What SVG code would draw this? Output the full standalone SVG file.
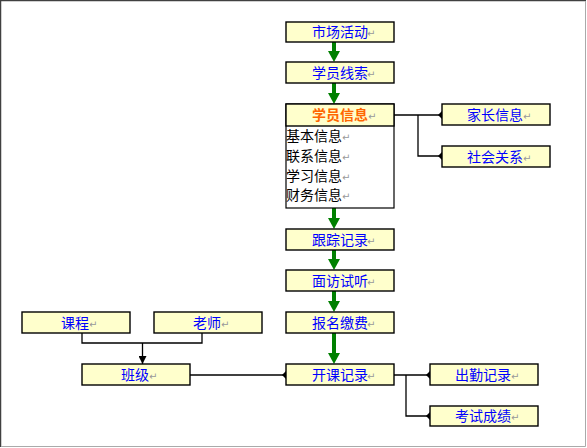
<svg xmlns="http://www.w3.org/2000/svg" width="587" height="448" viewBox="0 0 587 448">
<style>
.box{fill:#FFFFCC;stroke:#000;stroke-width:1.4}
.body{fill:#fff;stroke:#000;stroke-width:1.2}
.t{font-family:"Noto Sans CJK SC","Liberation Sans",sans-serif;font-size:14px;fill:#0000FF}
.h{font-family:"Noto Sans CJK SC","Liberation Sans",sans-serif;font-size:14px;fill:#FF6600;font-weight:bold}
.b{font-family:"Noto Sans CJK SC","Liberation Sans",sans-serif;font-size:14px;fill:#000}
.p{fill:#999;font-size:10px;font-family:"DejaVu Sans",sans-serif}
.ln{fill:none;stroke:#000;stroke-width:1.3}
.g{fill:none;stroke:#008000;stroke-width:4}
</style>
<defs>
<marker id="dia" viewBox="0 0 10 10" refX="5" refY="5" markerWidth="8" markerHeight="8" markerUnits="userSpaceOnUse" orient="auto">
<path d="M0,5 L5,0 L10,5 L5,10 Z" fill="#000"/>
</marker>
<marker id="tri" viewBox="0 0 10 10" refX="10" refY="5" markerWidth="8" markerHeight="8" markerUnits="userSpaceOnUse" orient="auto">
<path d="M0,0 L10,5 L0,10 Z" fill="#000"/>
</marker>
</defs>
<rect x="0" y="0" width="587" height="448" fill="#fff"/>
<path d="M0.5,447 V0.5 H586" fill="none" stroke="#404040" stroke-width="1.5"/>
<path d="M585.5,1 V446.5 H1" fill="none" stroke="#aaa" stroke-width="1"/>

<g id="connectors">
<g fill="#008000">
<path class="g" d="M334,42 V52"/><path d="M328,51 H340 L334,62 Z"/>
<path class="g" d="M334,83 V94"/><path d="M328,93 H340 L334,104 Z"/>
<path class="g" d="M334,208 V219"/><path d="M328,218 H340 L334,229 Z"/>
<path class="g" d="M334,250 V260"/><path d="M328,259 H340 L334,270 Z"/>
<path class="g" d="M334,291 V302"/><path d="M328,301 H340 L334,312 Z"/>
<path class="g" d="M334,333 V354"/><path d="M328,353 H340 L334,364 Z"/>
</g>
<path class="ln" d="M394,115 H442" marker-end="url(#dia)"/>
<path class="ln" d="M418,115 V156 H442" marker-end="url(#dia)"/>
<path class="ln" d="M394,375 H430" marker-end="url(#dia)"/>
<path class="ln" d="M406,375 V416 H430" marker-end="url(#dia)"/>
<path class="ln" d="M190,375 H286" marker-end="url(#dia)"/>
<path class="ln" d="M82,333 V343 H202 V333"/>
<path class="ln" d="M142.5,343 V364" marker-end="url(#tri)"/>
</g>

<g id="n1"><rect class="box" x="286" y="22" width="108" height="20"/><text class="t" x="312" y="37">市场活动</text><text class="p" x="367" y="37">↵</text></g>
<g id="n2"><rect class="box" x="286" y="62" width="108" height="21"/><text class="t" x="312" y="78">学员线索</text><text class="p" x="367" y="78">↵</text></g>
<g id="n3">
<rect class="body" x="286" y="104" width="108" height="104"/>
<rect class="box" x="286" y="104" width="108" height="22"/>
<text class="h" x="312" y="120">学员信息</text><text class="p" x="368" y="120">↵</text>
<text class="b" x="286" y="141">基本信息</text><text class="p" x="342" y="141">↵</text>
<text class="b" x="286" y="161">联系信息</text><text class="p" x="342" y="161">↵</text>
<text class="b" x="286" y="181">学习信息</text><text class="p" x="342" y="181">↵</text>
<text class="b" x="286" y="200">财务信息</text><text class="p" x="342" y="200">↵</text>
</g>
<g id="n4"><rect class="box" x="442" y="104" width="108" height="21"/><text class="t" x="467" y="120">家长信息</text><text class="p" x="523" y="120">↵</text></g>
<g id="n5"><rect class="box" x="442" y="146" width="108" height="21"/><text class="t" x="467" y="162">社会关系</text><text class="p" x="523" y="162">↵</text></g>
<g id="n6"><rect class="box" x="286" y="229" width="108" height="21"/><text class="t" x="312" y="245">跟踪记录</text><text class="p" x="367" y="245">↵</text></g>
<g id="n7"><rect class="box" x="286" y="270" width="108" height="21"/><text class="t" x="312" y="286">面访试听</text><text class="p" x="367" y="286">↵</text></g>
<g id="n8"><rect class="box" x="286" y="312" width="108" height="21"/><text class="t" x="312" y="328">报名缴费</text><text class="p" x="367" y="328">↵</text></g>
<g id="n9"><rect class="box" x="286" y="364" width="108" height="21"/><text class="t" x="312" y="380">开课记录</text><text class="p" x="367" y="380">↵</text></g>
<g id="n10"><rect class="box" x="430" y="364" width="108" height="21"/><text class="t" x="455" y="380">出勤记录</text><text class="p" x="511" y="380">↵</text></g>
<g id="n11"><rect class="box" x="430" y="406" width="108" height="20"/><text class="t" x="455" y="421">考试成绩</text><text class="p" x="511" y="421">↵</text></g>
<g id="n12"><rect class="box" x="22" y="312" width="108" height="21"/><text class="t" x="61" y="328">课程</text><text class="p" x="89" y="328">↵</text></g>
<g id="n13"><rect class="box" x="154" y="312" width="108" height="21"/><text class="t" x="193" y="328">老师</text><text class="p" x="221" y="328">↵</text></g>
<g id="n14"><rect class="box" x="82" y="364" width="108" height="21"/><text class="t" x="121" y="380">班级</text><text class="p" x="149" y="380">↵</text></g>
</svg>
